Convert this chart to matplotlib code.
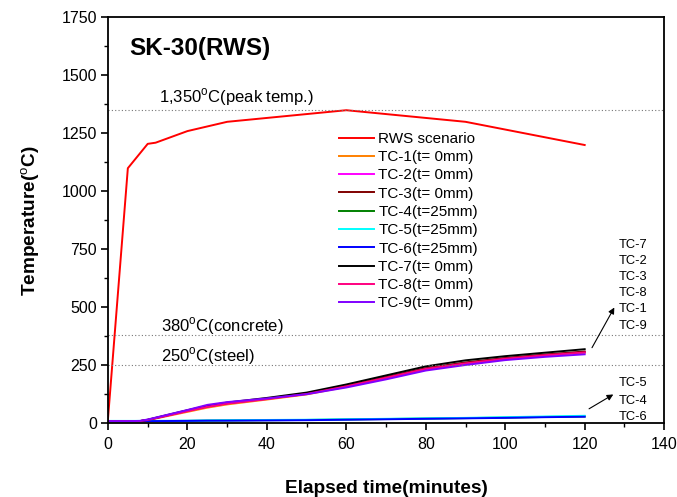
import matplotlib
matplotlib.use("Agg")
from matplotlib import pyplot as plt
from matplotlib.ticker import MultipleLocator

plt.rcParams["font.family"] = ["Liberation Sans", "DejaVu Sans"]
plt.rcParams["mathtext.fontset"] = "custom"
plt.rcParams["mathtext.rm"] = "Liberation Sans"

# RWS fire scenario
rws_time = [0, 5, 10, 12, 20, 30, 60, 90, 120]
rws_temp = [20, 1100, 1205, 1210, 1260, 1300, 1350, 1300, 1200]

# thermocouples
tc_time = [0, 5, 8, 10, 20, 25, 30, 40, 50, 60, 70, 80, 90, 100, 110, 120]
tc1 = [10, 10, 10, 14, 50, 68, 82, 103, 125, 158, 196, 234, 258, 278, 293, 305]
tc2 = [10, 10, 10, 15, 54, 72, 86, 106, 128, 160, 198, 236, 260, 280, 295, 308]
tc3 = [10, 10, 10, 15, 55, 73, 87, 107, 129, 162, 200, 238, 263, 282, 297, 310]
tc4 = [10, 10, 10, 10, 11, 12, 13, 14, 15, 17, 19, 21, 23, 25, 28, 30]
tc5 = [11, 11, 11, 11, 12, 13, 14, 15, 16, 18, 20, 22, 24, 27, 30, 33]
tc6 = [10, 10, 10, 10, 11, 12, 12, 13, 14, 16, 18, 20, 22, 24, 27, 29]
tc7 = [10, 10, 10, 16, 57, 76, 90, 110, 133, 168, 207, 246, 272, 290, 305, 320]
tc8 = [10, 10, 10, 15, 53, 72, 86, 105, 127, 160, 197, 235, 259, 279, 294, 306]
tc9 = [10, 10, 11, 17, 58, 80, 92, 108, 126, 155, 190, 228, 252, 273, 287, 298]

tc_labels = ["TC-1(t= 0mm)", "TC-2(t= 0mm)", "TC-3(t= 0mm)", "TC-4(t=25mm)",
             "TC-5(t=25mm)", "TC-6(t=25mm)", "TC-7(t= 0mm)", "TC-8(t= 0mm)",
             "TC-9(t= 0mm)"]
tc_colors = ["#ff8000", "#ff00ff", "#800000", "#008000", "#00ffff",
             "#0000ff", "#000000", "#ff0080", "#8000ff"]

fig = plt.figure(figsize=(6.77, 4.97), dpi=100)
ax = fig.add_axes([0.1595, 0.148, 0.8215, 0.817])

ax.plot(rws_time, rws_temp, color="#ff0000", lw=1.4, label="RWS scenario")
for vals, lab, col in zip([tc1, tc2, tc3, tc4, tc5, tc6, tc7, tc8, tc9], tc_labels, tc_colors):
    ax.plot(tc_time, vals, color=col, lw=1.4, label=lab)

# reference lines
for lvl in [1350, 380, 250]:
    ax.axhline(lvl, color="#777777", ls=(0, (1, 2)), lw=0.8)
ax.text(12.8, 1408, "1,350$^{\\rm o}$C(peak temp.)", fontsize=12, va="center")
ax.text(13.3, 418, "380$^{\\rm o}$C(concrete)", fontsize=12, va="center")
ax.text(13.3, 288, "250$^{\\rm o}$C(steel)", fontsize=12, va="center")
ax.text(5.3, 1617, "SK-30(RWS)", fontsize=17.5, fontweight="bold", va="center")

# group labels
top_group = ["TC-7", "TC-2", "TC-3", "TC-8", "TC-1", "TC-9"]
top_y = [768, 699, 630, 561, 492, 419]
for lab, yy in zip(top_group, top_y):
    ax.text(128.5, yy, lab, fontsize=9.3, va="center")
ax.annotate("", xy=(127.8, 510), xytext=(121.5, 316),
            arrowprops=dict(arrowstyle="-|>", color="black", lw=0.8, mutation_scale=9))

low_group = ["TC-5", "TC-4", "TC-6"]
low_y = [174, 98, 27]
for lab, yy in zip(low_group, low_y):
    ax.text(128.5, yy, lab, fontsize=9.3, va="center")
ax.annotate("", xy=(127.8, 131), xytext=(120.5, 57),
            arrowprops=dict(arrowstyle="-|>", color="black", lw=0.8, mutation_scale=9))

ax.set_xlim(0, 140)
ax.set_ylim(0, 1750)
ax.xaxis.set_major_locator(MultipleLocator(20))
ax.xaxis.set_minor_locator(MultipleLocator(10))
ax.yaxis.set_major_locator(MultipleLocator(250))
ax.yaxis.set_minor_locator(MultipleLocator(125))
ax.tick_params(which="major", direction="out", length=5, width=1.2, labelsize=11.5)
ax.tick_params(axis="x", which="major", pad=5)
ax.tick_params(axis="y", which="major", pad=3)
ax.tick_params(which="minor", direction="out", length=3, width=1.0)
ax.tick_params(top=False, right=False)
for sp in ax.spines.values():
    sp.set_linewidth(1.3)

ax.set_xlabel("Elapsed time(minutes)", fontsize=13.7, fontweight="bold", labelpad=20)
ax.set_ylabel("Temperature($^{\\rm o}$C)", fontsize=13.7, fontweight="bold", labelpad=14)

ax.legend(loc="upper left", bbox_to_anchor=(0.405, 0.733), frameon=False,
          fontsize=11, handlelength=2.3, labelspacing=0.28, borderaxespad=0,
          handletextpad=0.25)

fig.savefig("out.png", dpi=100)
